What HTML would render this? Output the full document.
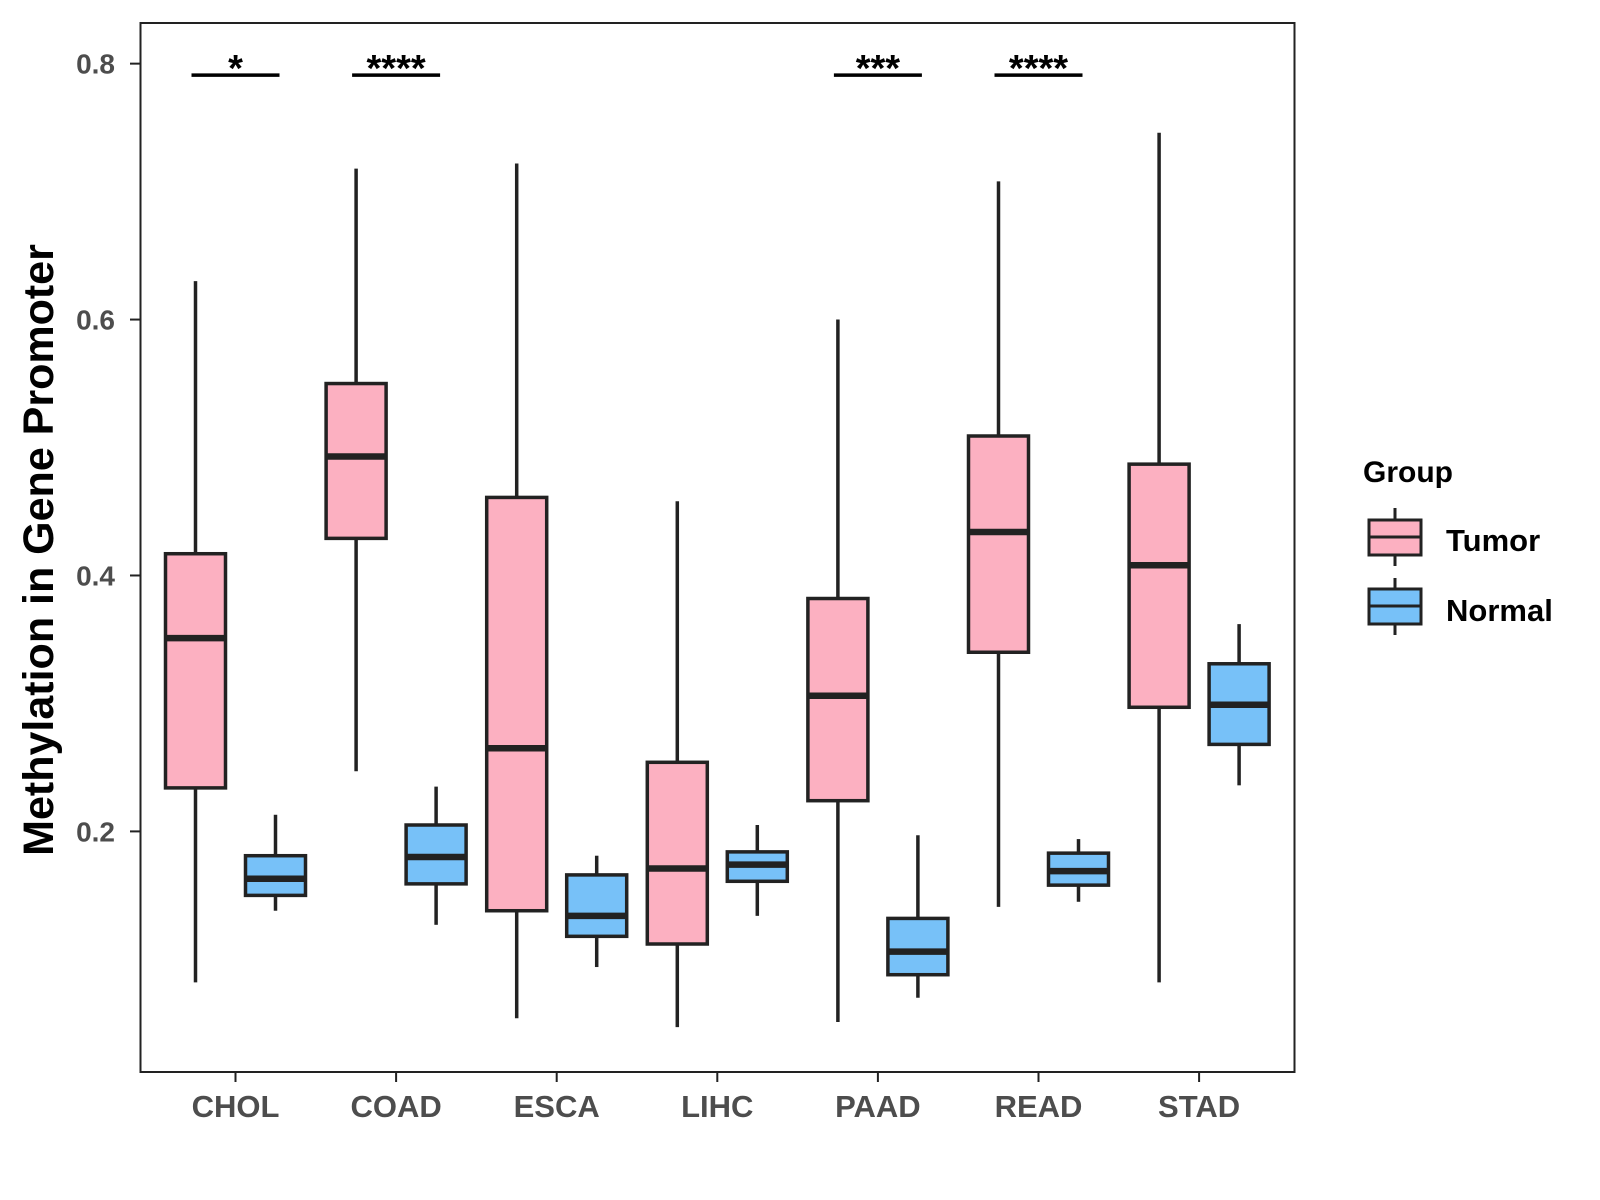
<!DOCTYPE html>
<html><head><meta charset="utf-8"><style>
body{margin:0;background:#fff;}
svg{display:block;font-family:"Liberation Sans",sans-serif;}
</style></head><body>
<svg id="chart" width="1600" height="1200" viewBox="0 0 1600 1200">
<rect width="1600" height="1200" fill="#fff"/>
<g id="marks"></g>
<rect x="140.5" y="23" width="1154" height="1049" fill="none" stroke="#222" stroke-width="2"/>
<g id="axes"></g>
<text x="0" y="0" transform="translate(53,550) rotate(-90)" text-anchor="middle" font-size="43" font-weight="bold" fill="#000">Methylation in Gene Promoter</text>
<g>
<text x="1363" y="482" font-size="30" font-weight="bold" fill="#000">Group</text>
<g>
<line x1="1395" y1="508" x2="1395" y2="566" stroke="#222" stroke-width="3"/>
<rect x="1369" y="520" width="52" height="35" fill="#FCB0C1" stroke="#222" stroke-width="3"/>
<line x1="1369" y1="537" x2="1421" y2="537" stroke="#222" stroke-width="3"/>
<text x="1446" y="551" font-size="31" font-weight="bold" fill="#000">Tumor</text>
</g>
<g>
<line x1="1395" y1="578" x2="1395" y2="635" stroke="#222" stroke-width="3"/>
<rect x="1369" y="589" width="52" height="35" fill="#77C1F8" stroke="#222" stroke-width="3"/>
<line x1="1369" y1="606" x2="1421" y2="606" stroke="#222" stroke-width="3"/>
<text x="1446" y="621" font-size="31" font-weight="bold" fill="#000">Normal</text>
</g>
</g>
</svg>
<script>
const categories = ["CHOL","COAD","ESCA","LIHC","PAAD","READ","STAD"];
// [low, q1, median, q3, high]
const tumorStats = [
 [0.082,0.234,0.351,0.417,0.630],
 [0.247,0.429,0.493,0.550,0.718],
 [0.054,0.138,0.265,0.461,0.722],
 [0.047,0.112,0.171,0.254,0.458],
 [0.051,0.224,0.306,0.382,0.600],
 [0.141,0.340,0.434,0.509,0.708],
 [0.082,0.297,0.408,0.487,0.746]
];
const normalStats = [
 [0.138,0.150,0.163,0.181,0.213],
 [0.127,0.159,0.180,0.205,0.235],
 [0.094,0.118,0.134,0.166,0.181],
 [0.134,0.161,0.174,0.184,0.205],
 [0.070,0.088,0.106,0.132,0.197],
 [0.145,0.158,0.169,0.183,0.194],
 [0.236,0.268,0.299,0.331,0.362]
];
const significance = ["*","****","","","***","****",""];
const yTicks = [0.2,0.4,0.6,0.8];
const sigLevel = 0.791;

const NS="http://www.w3.org/2000/svg";
function y(v){return 831.4-(v-0.2)*1279.6;}
function x(i){return 235.5+160.6*i;}
function mk(tag,attrs,parent){const e=document.createElementNS(NS,tag);for(const k in attrs)e.setAttribute(k,attrs[k]);parent.appendChild(e);return e;}
const marks=document.getElementById('marks'), axes=document.getElementById('axes');
function box(cx,s,fill,name){
  const g=mk('g',{},marks);
  
  
  const w=60;
  mk('line',{x1:cx,x2:cx,y1:y(s[4]),y2:y(s[3]),stroke:'#222','stroke-width':3.5},g);
  mk('line',{x1:cx,x2:cx,y1:y(s[1]),y2:y(s[0]),stroke:'#222','stroke-width':3.5},g);
  mk('rect',{x:cx-w/2,y:y(s[3]),width:w,height:y(s[1])-y(s[3]),fill:fill,stroke:'#222','stroke-width':3.5},g);
  mk('line',{x1:cx-w/2,x2:cx+w/2,y1:y(s[2]),y2:y(s[2]),stroke:'#222','stroke-width':6.5},g);
}
categories.forEach((c,i)=>{
  box(x(i)-40,tumorStats[i],'#FCB0C1','box-tumor-'+c.toLowerCase());
  box(x(i)+40,normalStats[i],'#77C1F8','box-normal-'+c.toLowerCase());
  if(significance[i]){
    const g=mk('g',{},marks);
    
    
    mk('line',{x1:x(i)-44,x2:x(i)+44,y1:y(sigLevel),y2:y(sigLevel),stroke:'#000','stroke-width':3.5},g);
    const t=mk('text',{x:x(i),y:y(sigLevel)+6,'text-anchor':'middle','font-size':38,'font-weight':'bold',fill:'#000'},g);
    t.textContent=significance[i];
  }
  mk('line',{x1:x(i),x2:x(i),y1:1072,y2:1082,stroke:'#222','stroke-width':2},axes);
  const t=mk('text',{x:x(i),y:1117,'text-anchor':'middle','font-size':31,'font-weight':'bold',fill:'#4d4d4d'},axes);
  
  
  t.textContent=c;
});
yTicks.forEach(v=>{
  mk('line',{x1:130,x2:140.5,y1:y(v),y2:y(v),stroke:'#222','stroke-width':2},axes);
  const t=mk('text',{x:115,y:y(v)+10,'text-anchor':'end','font-size':28,'font-weight':'bold',fill:'#4d4d4d'},axes);
  
  
  t.textContent=v.toFixed(1);
});
</script>
</body></html>
